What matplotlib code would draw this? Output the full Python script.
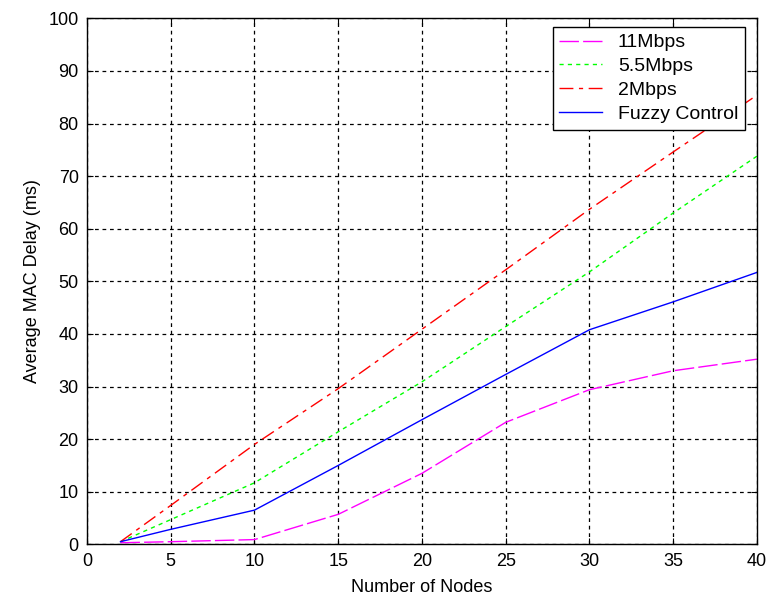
import numpy as np
import matplotlib
matplotlib.use("Agg")
import matplotlib.pyplot as plt

plt.rcParams['font.family'] = ['Liberation Sans', 'DejaVu Sans']

# values
nodes = [2, 5, 10, 15, 20, 25, 30, 35, 40]
delay_11 = [0.3, 0.5, 0.9, 5.7, 13.5, 23.2, 29.4, 33.0, 35.2]
delay_55 = [0.5, 4.7, 11.7, 21.4, 30.9, 41.4, 51.8, 63.0, 73.8]
delay_2 = [0.5, 7.4, 19.0, 29.6, 40.9, 52.2, 63.7, 74.6, 85.4]
delay_fuzzy = [0.5, 2.85, 6.5, 15.0, 23.7, 32.3, 40.8, 46.1, 51.7]

fig = plt.figure(figsize=(7.76, 6.01), dpi=100)
ax = fig.add_axes([0.1121, 0.0943, 0.8634, 0.8752])

ax.plot(nodes, delay_11, color='#ff00ff', lw=1, dashes=(14, 3), label='11Mbps')
ax.plot(nodes, delay_55, color='#00ff00', lw=1, dashes=(3, 3), label='5.5Mbps')
ax.plot(nodes, delay_2, color='#ff0000', lw=1, dashes=(10, 4, 3, 4), label='2Mbps')
ax.plot(nodes, delay_fuzzy, color='#0000ff', lw=1, label='Fuzzy Control')

ax.set_xlim(0, 40)
ax.set_ylim(0, 100)
ax.set_xticks(np.arange(0, 41, 5))
ax.set_yticks(np.arange(0, 101, 10))
ax.grid(True, color='black', linestyle=(0, (3, 3)), linewidth=0.9)
ax.tick_params(direction='in', length=4, labelsize=13, top=True, right=True, pad=6)
for s in ax.spines.values():
    s.set_linewidth(1)

ax.set_xlabel('Number of Nodes', fontsize=13, labelpad=7)
ax.set_ylabel('Average MAC Delay (ms)', fontsize=13, labelpad=5)

leg = ax.legend(loc='upper right', bbox_to_anchor=(0.982, 0.9835), fancybox=False,
                edgecolor='black', framealpha=1, fontsize=14, handlelength=2.2,
                borderpad=0.35, labelspacing=0.32, handletextpad=0.8, borderaxespad=0)
leg.get_frame().set_linewidth(1)

fig.savefig('out.png', dpi=100)
